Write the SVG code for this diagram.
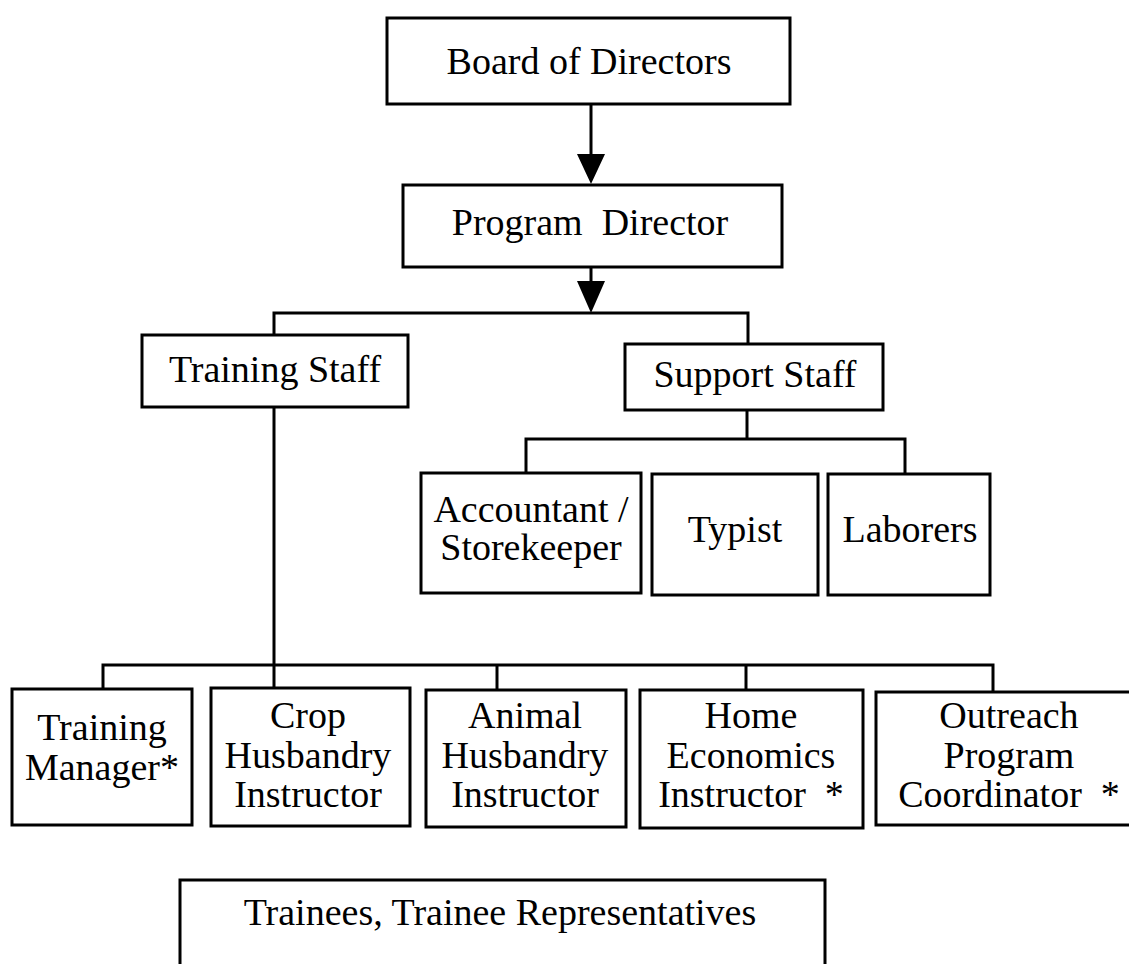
<svg xmlns="http://www.w3.org/2000/svg" width="1129" height="964" viewBox="0 0 1129 964">
<style>
.box{fill:#fff;stroke:#000;stroke-width:3}
.ln{fill:none;stroke:#000;stroke-width:3}
.ah{fill:#000;stroke:none}
text{font-family:"Liberation Serif","Times New Roman",serif;font-size:38px;fill:#000;text-anchor:middle}
</style>
<rect width="1129" height="964" fill="#fff"/>
<g id="connectors">
<path class="ln" d="M591 104V156"/>
<polygon class="ah" points="577,154 605,154 591,184"/>
<path class="ln" d="M591 267V283"/>
<polygon class="ah" points="577,281 605,281 591,313"/>
<path class="ln" d="M274 335V313H748V344"/>
<path class="ln" d="M747 410V439"/>
<path class="ln" d="M526 473V439H905V473"/>
<path class="ln" d="M274 407V688"/>
<path class="ln" d="M103 689V665H993V692"/>
<path class="ln" d="M497 665V690"/>
<path class="ln" d="M746 665V690"/>
</g>
<g id="board"><rect class="box" x="387" y="18" width="403" height="86"/><text x="589" y="74">Board of Directors</text></g>
<g id="program-director"><rect class="box" x="403" y="185" width="379" height="82"/><text x="590" y="235" xml:space="preserve">Program  Director</text></g>
<g id="training-staff"><rect class="box" x="142" y="335" width="266" height="72"/><text x="275" y="382">Training Staff</text></g>
<g id="support-staff"><rect class="box" x="625" y="344" width="258" height="66"/><text x="755" y="387">Support Staff</text></g>
<g id="accountant"><rect class="box" x="421" y="473" width="220" height="120"/><text x="531" y="522">Accountant /</text><text x="531" y="560">Storekeeper</text></g>
<g id="typist"><rect class="box" x="652" y="474" width="166" height="121"/><text x="735" y="542">Typist</text></g>
<g id="laborers"><rect class="box" x="828" y="474" width="162" height="121"/><text x="910" y="542">Laborers</text></g>
<g id="training-manager"><rect class="box" x="12" y="689" width="180" height="136"/><text x="102" y="740">Training</text><text x="102" y="780">Manager*</text></g>
<g id="crop"><rect class="box" x="211" y="688" width="199" height="138"/><text x="308" y="728">Crop</text><text x="308" y="768">Husbandry</text><text x="308" y="807">Instructor</text></g>
<g id="animal"><rect class="box" x="426" y="690" width="200" height="137"/><text x="525" y="728">Animal</text><text x="525" y="768">Husbandry</text><text x="525" y="807">Instructor</text></g>
<g id="home"><rect class="box" x="640" y="690" width="223" height="138"/><text x="751" y="728">Home</text><text x="751" y="768">Economics</text><text x="751" y="807" xml:space="preserve">Instructor  *</text></g>
<g id="outreach"><rect class="box" x="876" y="692" width="260" height="133"/><text x="1009" y="728">Outreach</text><text x="1009" y="768">Program</text><text x="1009" y="807" xml:space="preserve">Coordinator  *</text></g>
<g id="trainees"><path class="ln" d="M180 966V880H825V966"/><text x="500" y="925">Trainees, Trainee Representatives</text></g>
</svg>
